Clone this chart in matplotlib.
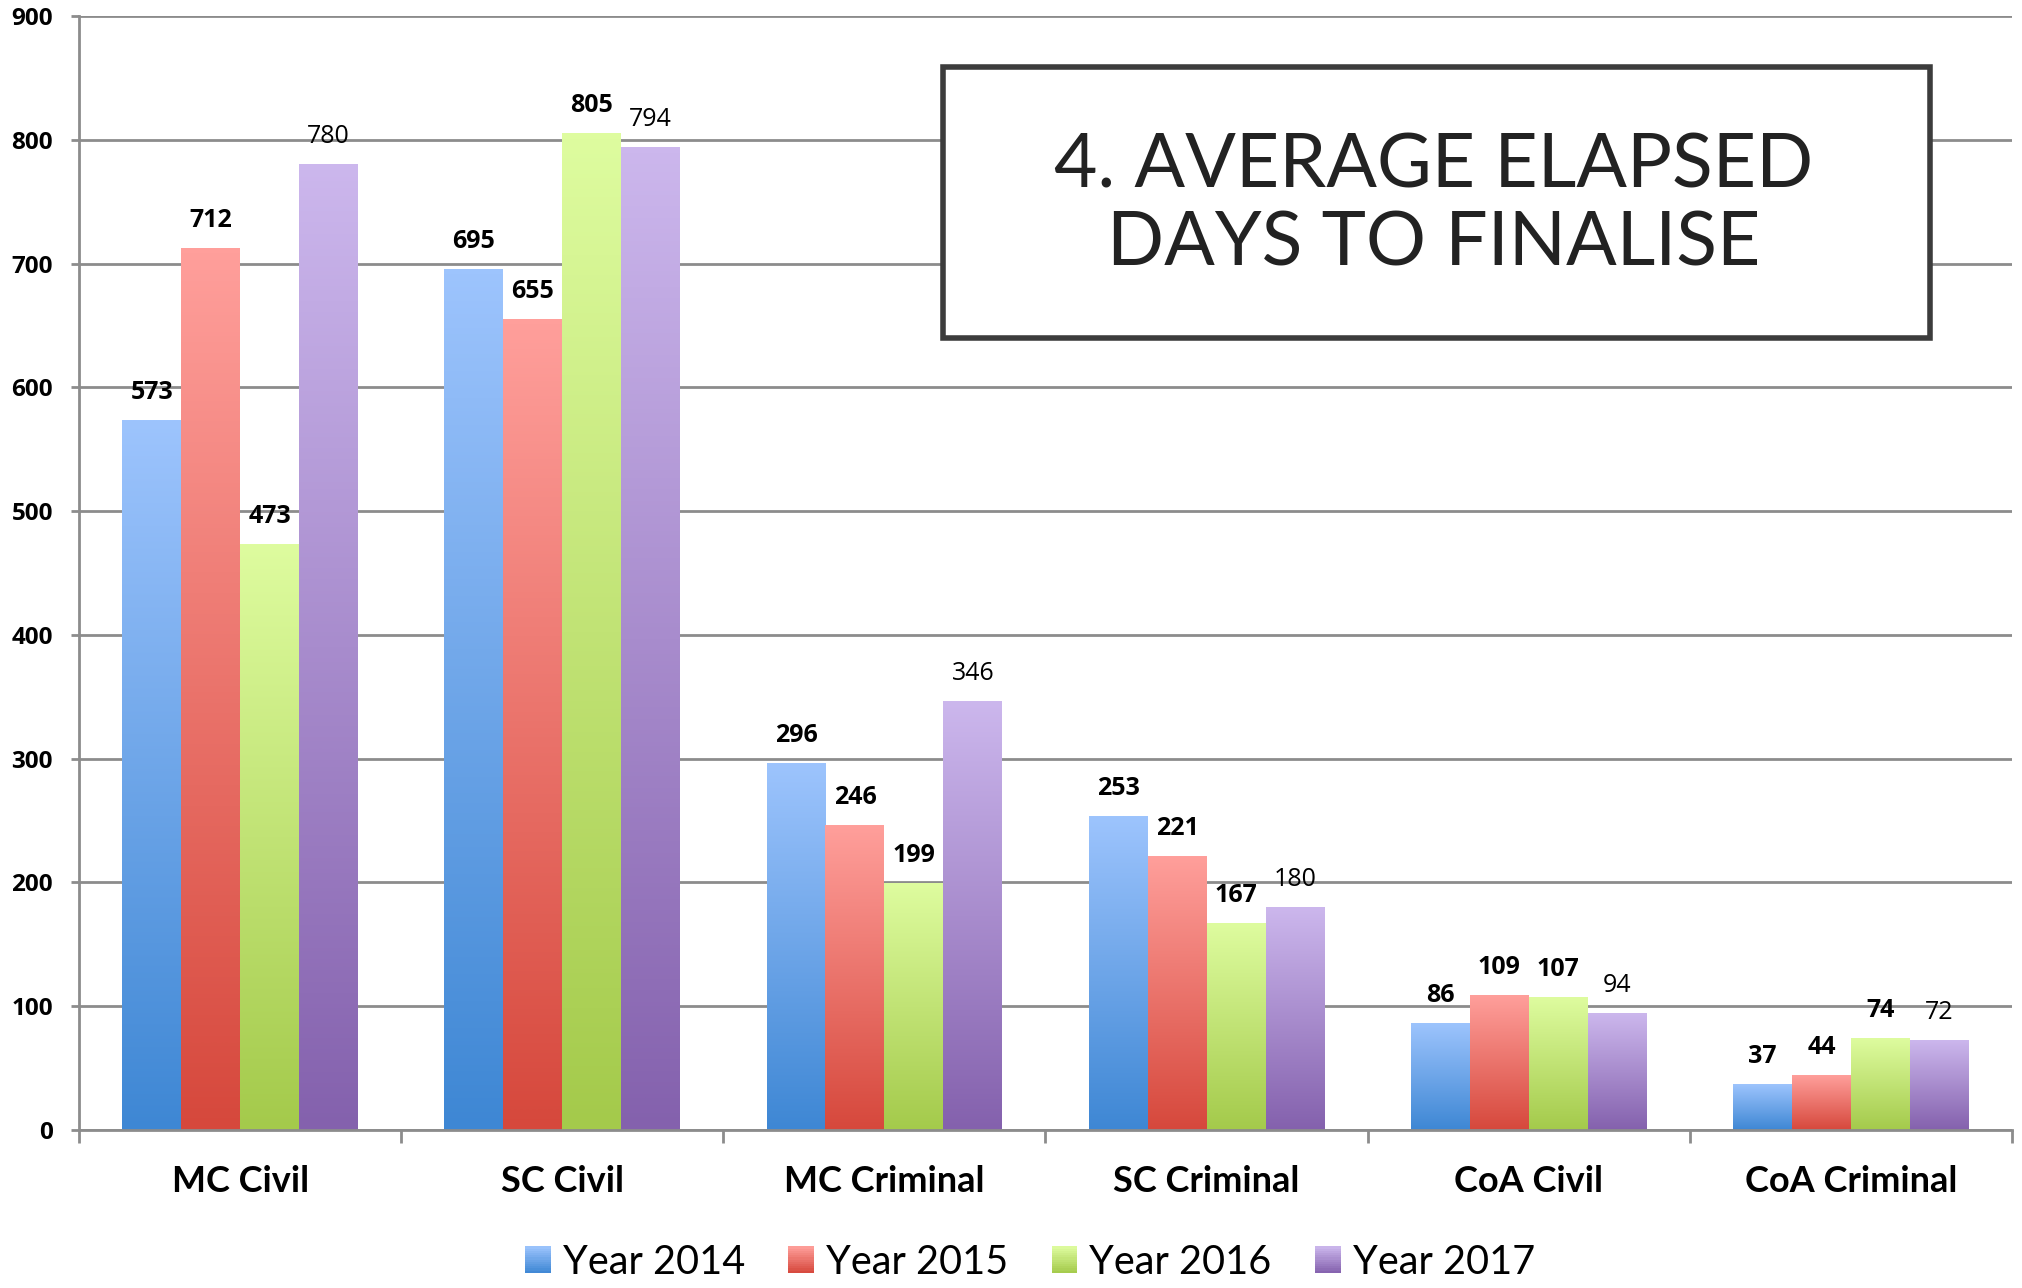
import numpy as np
import matplotlib
matplotlib.use("Agg")
import matplotlib.pyplot as plt
from matplotlib.colors import LinearSegmentedColormap
from matplotlib.patches import Rectangle
from matplotlib.legend_handler import HandlerBase

# ── Data ──────────────────────────────────────────────────────────────────
categories = ["MC Civil", "SC Civil", "MC Criminal", "SC Criminal",
              "CoA Civil", "CoA Criminal"]
years = ["Year 2014", "Year 2015", "Year 2016", "Year 2017"]
y2014 = [573, 695, 296, 253, 86, 37]
y2015 = [712, 655, 246, 221, 109, 44]
y2016 = [473, 805, 199, 167, 107, 74]
y2017 = [780, 794, 346, 180, 94, 72]
series = [y2014, y2015, y2016, y2017]
yticks = list(range(0, 901, 100))

# (bottom, top) gradient colours per series
GRAD = [("#3E87D4", "#9DC4FD"),
        ("#D6483C", "#FF9F9B"),
        ("#A4CA4B", "#DEFC9F"),
        ("#8461AD", "#CCB7ED")]
GRID = "#8C8C8C"
LABF = ["Lato", "DejaVu Sans"]
NUMF = ["Open Sans", "DejaVu Sans"]

cmaps = [LinearSegmentedColormap.from_list(f"g{i}", g) for i, g in enumerate(GRAD)]

fig = plt.figure(figsize=(20.22, 12.88), dpi=100, facecolor="white")
ax = fig.add_axes([79 / 2022, 1 - 1130 / 1288, (2012 - 79) / 2022, (1130 - 16) / 1288])

x = np.arange(len(categories))
w = 0.183
grad = np.linspace(0, 1, 256).reshape(-1, 1)

for k, vals in enumerate(series):
    offs = (k - 1.5) * w
    bars = ax.bar(x + offs, vals, width=w, facecolor="none", edgecolor="none", zorder=2)
    for b, v in zip(bars, vals):
        x0 = b.get_x()
        ax.imshow(grad, extent=[x0, x0 + w, 0, v], origin="lower", aspect="auto",
                  cmap=cmaps[k], zorder=2, interpolation="bilinear")
        ax.annotate(str(v), xy=(x0 + w / 2, v), xytext=(0, 15.5),
                    textcoords="offset points", ha="center", va="baseline",
                    fontsize=18, family=NUMF,
                    fontweight="bold" if k < 3 else "normal", color="black",
                    zorder=4)

ax.set_xlim(-0.5, len(categories) - 0.5)
ax.set_ylim(0, 900)

# ── Axes styling ─────────────────────────────────────────────────────────
ax.set_yticks(yticks)
ax.set_yticklabels([str(t) for t in yticks], fontsize=17.5, fontweight="bold", family=NUMF)
ax.tick_params(axis="y", length=5.8, width=2, color=GRID, pad=13)
ax.grid(axis="y", color=GRID, linewidth=2, zorder=1)
ax.set_axisbelow(True)

ax.set_xticks(x)
ax.set_xticklabels(categories, fontsize=26, fontweight="bold", family=LABF)
ax.tick_params(axis="x", length=0, pad=25)
ax.set_xticks(np.arange(-0.5, len(categories)), minor=True)
ax.tick_params(axis="x", which="minor", length=9.4, width=2, color=GRID)

for s in ("top", "right"):
    ax.spines[s].set_visible(False)
for s in ("left", "bottom"):
    ax.spines[s].set_color(GRID)
    ax.spines[s].set_linewidth(2)
    ax.spines[s].set_zorder(3)


# ── Legend with gradient squares ─────────────────────────────────────────
class GradHandler(HandlerBase):
    def __init__(self, cmap):
        super().__init__()
        self.cmap = cmap

    def create_artists(self, legend, orig_handle, xdescent, ydescent, width, height,
                       fontsize, trans):
        n = 12
        arts = []
        for i in range(n):
            r = Rectangle((-xdescent, -ydescent + i * height / n), width, height / n + 0.3,
                          facecolor=self.cmap((i + 0.5) / n), edgecolor="none",
                          transform=trans)
            arts.append(r)
        return arts


handles = [Rectangle((0, 0), 1, 1) for _ in years]
fig.legend(handles, years, loc="center", bbox_to_anchor=(1030 / 2022, 1 - 1262 / 1288),
           ncol=4, frameon=False, prop={"family": LABF, "size": 28.5},
           handlelength=0.65, handleheight=0.65, handletextpad=0.3,
           columnspacing=1.1,
           handler_map={h: GradHandler(c) for h, c in zip(handles, cmaps)})

# ── Title box ────────────────────────────────────────────────────────────
box = Rectangle((943 / 2022, 1 - 338 / 1288), 987 / 2022, 271 / 1288,
                transform=fig.transFigure, facecolor="white", edgecolor="#3C3C3C",
                linewidth=4, zorder=5)
fig.add_artist(box)
fig.text(1434 / 2022, 1 - 166 / 1288, "4. AVERAGE ELAPSED", ha="center", va="center",
         fontsize=54, family=["Lato", "DejaVu Sans"], color="#222222", zorder=6)
fig.text(1434 / 2022, 1 - 244 / 1288, "DAYS TO FINALISE", ha="center", va="center",
         fontsize=54, family=["Lato", "DejaVu Sans"], color="#222222", zorder=6)

fig.savefig("out.png", dpi=100, facecolor="white")
